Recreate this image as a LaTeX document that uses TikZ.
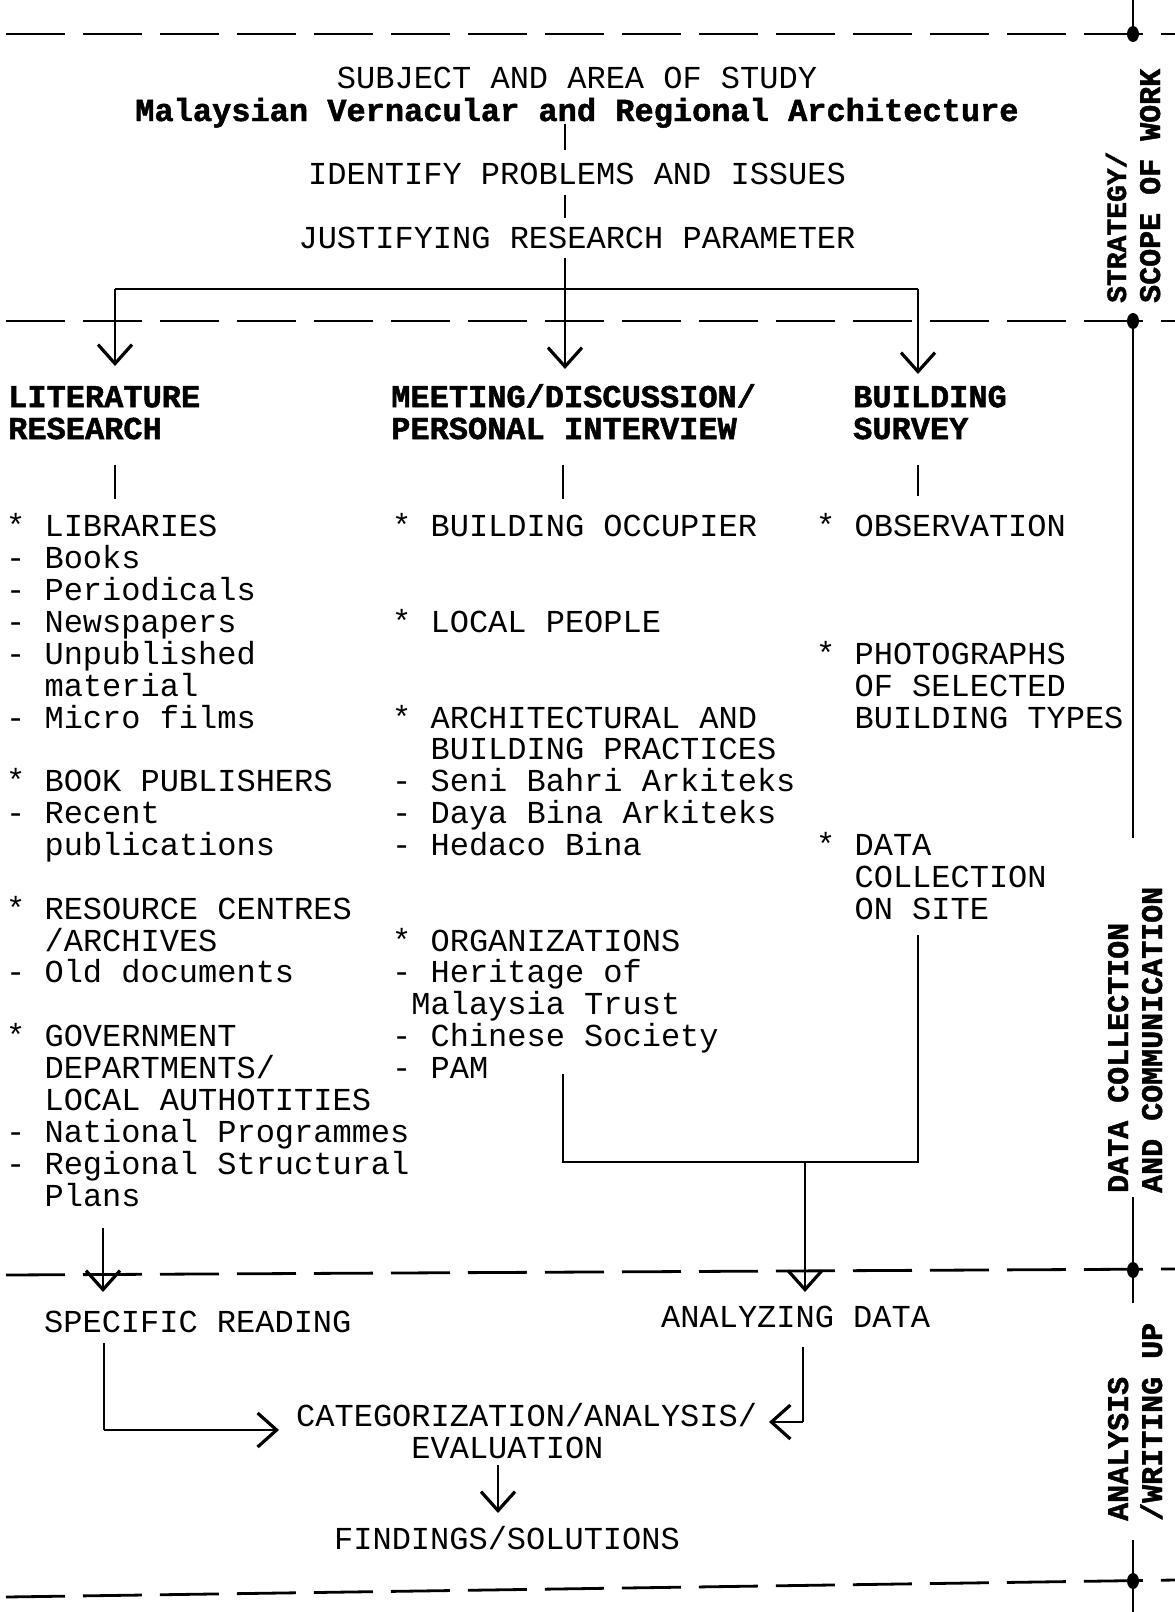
\documentclass[tikz,border=0pt]{standalone}
\usepackage{fontspec}
\setmonofont{Liberation Mono}
\newfontfamily\heavymono[BoldFont={* Bold}, BoldFeatures={FakeBold=1.5}]{Liberation Mono}
\usetikzlibrary{arrows.meta,shapes.geometric}
\newcommand\myst{\rule{0pt}{25pt}}
\begin{document}
\begin{tikzpicture}[x=1pt,y=-1pt,
  txt/.style={inner sep=0pt, font=\ttfamily\fontsize{32}{31.87}\selectfont},
  bld/.style={inner sep=0pt, font=\heavymono\bfseries\fontsize{32}{31.87}\selectfont},
  vlab/.style={inner sep=0pt, rotate=90, anchor=base west, font=\heavymono\bfseries\fontsize{30}{30}\selectfont},
  conn/.style={line width=1.5pt},
  arr/.style={conn, -{Straight Barb[length=19pt,width=34pt,line width=3.2pt]}},
  sep/.style={line width=2.8pt, dash pattern=on 59pt off 18pt},
  blob/.style={ellipse, fill=black, minimum width=12pt, minimum height=16pt, inner sep=0pt}
]
\useasboundingbox (0,0) rectangle (1175,1612);

% separators
\draw[sep] (6,34) -- (1175,34);
\draw[sep] (6,321) -- (1175,321);
\draw[sep] (6,1275) -- (1175,1269);
\draw[sep] (6,1597) -- (1175,1580);
\node[blob] (d1) at (1133,34) {};
\node[blob] (d2) at (1133,321) {};
\node[blob] (d3) at (1133,1270) {};
\node[blob] (d4) at (1133,1581) {};
\coordinate (v0) at (1133,0);
\coordinate (v1) at (1133,838);
\coordinate (v2) at (1133,1197);
\coordinate (v3) at (1133,1303);
\coordinate (v4) at (1133,1540);
\coordinate (v5) at (1133,1612);
\draw[conn] (v0) -- (d1);
\draw[conn] (d2) -- (v1);
\draw[conn] (v2) -- (d3) -- (v3);
\draw[conn] (v4) -- (d4) -- (v5);

% side labels
\node[vlab, font=\heavymono\bfseries\fontsize{28}{28}\selectfont] (s1a) at (1126,303) {STRATEGY/};
\node[vlab] (s1b) at (1160,303) {SCOPE OF WORK};
\node[vlab] (s2a) at (1128,1193) {DATA COLLECTION};
\node[vlab] (s2b) at (1162,1193) {AND COMMUNICATION};
\node[vlab] (s3a) at (1128,1521) {ANALYSIS};
\node[vlab] (s3b) at (1162,1521) {/WRITING UP};

% top
\node[txt, anchor=base] (subj) at (577,88) {SUBJECT AND AREA OF STUDY};
\node[bld, anchor=base] (mva) at (577,121) {Malaysian Vernacular and Regional Architecture};
\node[txt, anchor=base] (ident) at (577,184) {IDENTIFY PROBLEMS AND ISSUES};
\node[txt, anchor=base] (just) at (577,248) {JUSTIFYING RESEARCH PARAMETER};

\coordinate (a1) at (565,124); \coordinate (a2) at (565,150);
\coordinate (a3) at (565,195); \coordinate (a4) at (565,218);
\coordinate (a5) at (565,258); \coordinate (jm) at (565,289);
\coordinate (jl) at (115,289); \coordinate (jr) at (918,289);
\coordinate (tl) at (115,366); \coordinate (tm) at (565,369); \coordinate (tr) at (918,374);
\draw[conn] (a1) -- (a2);
\draw[conn] (a3) -- (a4);
\draw[conn] (a5) -- (jm);
\draw[conn] (jl) -- (jr);
\draw[arr] (jl) -- (tl);
\draw[arr] (jm) -- (tm);
\draw[arr] (jr) -- (tr);

% headings
\node[bld, anchor=north west, align=left] (hlit) at (8,382) {\myst LITERATURE\\RESEARCH};
\node[bld, anchor=north west, align=left] (hmeet) at (391,382) {\myst MEETING/DISCUSSION/\\PERSONAL~INTERVIEW};
\node[bld, anchor=north west, align=left] (hbuild) at (853,382) {\myst BUILDING\\SURVEY};

\coordinate (l1) at (115,465); \coordinate (l2) at (115,499);
\coordinate (m1) at (563,465); \coordinate (m2) at (563,499);
\coordinate (r1) at (918,465); \coordinate (r2) at (918,496);
\draw[conn] (l1) -- (l2);
\draw[conn] (m1) -- (m2);
\draw[conn] (r1) -- (r2);

% lists
\node[txt, anchor=north west, align=left] (litlist) at (6,511.6) {\myst{*} LIBRARIES\\
- Books\\
- Periodicals\\
- Newspapers\\
- Unpublished\\
\hspace*{38.4pt}material\\
- Micro films\\[31.87pt]
{*} BOOK PUBLISHERS\\
- Recent\\
\hspace*{38.4pt}publications\\[31.87pt]
{*} RESOURCE CENTRES\\
\hspace*{38.4pt}/ARCHIVES\\
- Old documents\\[31.87pt]
{*} GOVERNMENT\\
\hspace*{38.4pt}DEPARTMENTS/\\
\hspace*{38.4pt}LOCAL AUTHOTITIES\\
- National Programmes\\
- Regional Structural\\
\hspace*{38.4pt}Plans};

\node[txt, anchor=north west, align=left] (meetlist) at (392,511.6) {\myst{*} BUILDING OCCUPIER\\[63.74pt]
{*} LOCAL PEOPLE\\[63.74pt]
{*} ARCHITECTURAL AND\\
\hspace*{38.4pt}BUILDING PRACTICES\\
- Seni Bahri Arkiteks\\
- Daya Bina Arkiteks\\
- Hedaco Bina\\[63.74pt]
{*} ORGANIZATIONS\\
- Heritage of\\
\hspace*{19.2pt}Malaysia Trust\\
- Chinese Society\\
- PAM};

\node[txt, anchor=north west, align=left] (survlist) at (816,511.6) {\myst{*} OBSERVATION\\[95.61pt]
{*} PHOTOGRAPHS\\
\hspace*{38.4pt}OF SELECTED\\
\hspace*{38.4pt}BUILDING TYPES\\[95.61pt]
{*} DATA\\
\hspace*{38.4pt}COLLECTION\\
\hspace*{38.4pt}ON SITE};

% merge of middle and right columns
\coordinate (rb1) at (918,935); \coordinate (rb2) at (918,1162);
\coordinate (mb1) at (563,1074); \coordinate (mb2) at (563,1162);
\coordinate (dj) at (805,1162); \coordinate (dt) at (805,1292);
\draw[conn] (rb1) -- (rb2) -- (mb2) -- (mb1);
\draw[arr] (dj) -- (dt);
\coordinate (lb1) at (103,1228); \coordinate (lb2) at (103,1292);
\draw[arr] (lb1) -- (lb2);

% analysis section
\node[txt, anchor=base west] (spec) at (44,1332) {SPECIFIC READING};
\node[txt, anchor=base west] (anal) at (661,1327) {ANALYZING DATA};
\node[txt, anchor=north west, align=left] (cat) at (296,1401) {\myst CATEGORIZATION/ANALYSIS/\\\hspace*{115.2pt}EVALUATION};
\node[txt, anchor=base] (find) at (507,1549) {FINDINGS/SOLUTIONS};

\coordinate (sl1) at (104,1343); \coordinate (sl2) at (104,1430); \coordinate (sl3) at (279,1430);
\draw[conn] (sl1) -- (sl2);
\draw[arr] (sl2) -- (sl3);
\coordinate (ar1) at (803,1347); \coordinate (ar2) at (803,1422); \coordinate (ar3) at (769,1422);
\draw[conn] (ar1) -- (ar2);
\draw[arr] (ar2) -- (ar3);
\coordinate (f1) at (498,1465); \coordinate (f2) at (498,1513);
\draw[arr] (f1) -- (f2);
\end{tikzpicture}
\end{document}
